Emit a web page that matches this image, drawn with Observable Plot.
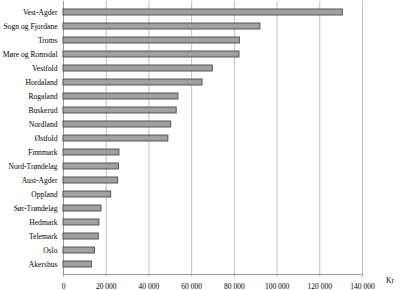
<!DOCTYPE html>
<html><head><meta charset="utf-8">
<script src="https://cdn.jsdelivr.net/npm/d3@7"></script>
<script src="https://cdn.jsdelivr.net/npm/@observablehq/plot@0.6"></script>
<style>
html,body{margin:0;padding:0;background:#fff;}
#chart{position:relative;width:400px;height:290px;}
#chart svg{display:block;}
#kr{position:absolute;left:386px;top:276px;font:7.5px "Liberation Serif",serif;color:#000;}
</style>
</head><body>
<div id="chart"><span id="kr">Kr</span></div>
<script>
const fylker = ["Vest-Agder","Sogn og Fjordane","Troms","Møre og Romsdal","Vestfold","Hordaland","Rogaland","Buskerud","Nordland","Østfold","Finnmark","Nord-Trøndelag","Aust-Agder","Oppland","Sør-Trøndelag","Hedmark","Telemark","Oslo","Akershus"];
const verdier = [130800,92200,82600,82400,69900,65100,53800,53000,50400,49100,26200,26000,25600,22300,17800,16800,16500,14700,13300];
const xTicks = [0,20000,40000,60000,80000,100000,120000,140000];

const data = fylker.map((f,i)=>({fylke:f, verdi:verdier[i]}));
const fmt = v => d3.format(",")(v).replace(/,/g," ");

const chart = Plot.plot({
  width:400, height:290,
  marginLeft:63, marginRight:38, marginTop:1, marginBottom:15.5,
  style:{fontFamily:"'Liberation Serif', serif", fontSize:"7.5px", background:"#fff", color:"#000"},
  x:{domain:[0,140000], ticks:xTicks},
  y:{domain:fylker, paddingInner:0.6, paddingOuter:0.3},
  marks:[
    Plot.gridX(xTicks,{stroke:"#c0c0c0", strokeOpacity:1, strokeWidth:1}),
    Plot.ruleX([0],{stroke:"#999", strokeWidth:1}),
    Plot.barX(data,{x:"verdi", y:"fylke", fill:"#a0a0a0", stroke:"#555", strokeWidth:1}),
    Plot.axisX({ticks:xTicks, tickFormat:fmt, tickSize:2, stroke:"#999", tickPadding:6.5, fontSize:7.5, label:null}),
    Plot.axisY({tickSize:0, tickPadding:6, fontSize:7.6, label:null})
  ]
});
const svg = d3.select(chart);
const xs = chart.scale("x");
const x0 = xs.apply(0), x1 = xs.apply(140000);
svg.append("line").attr("x1",x0).attr("x2",x1).attr("y1",274.5).attr("y2",274.5).attr("stroke","#999");
document.getElementById("chart").prepend(chart);
</script>
</body></html>
